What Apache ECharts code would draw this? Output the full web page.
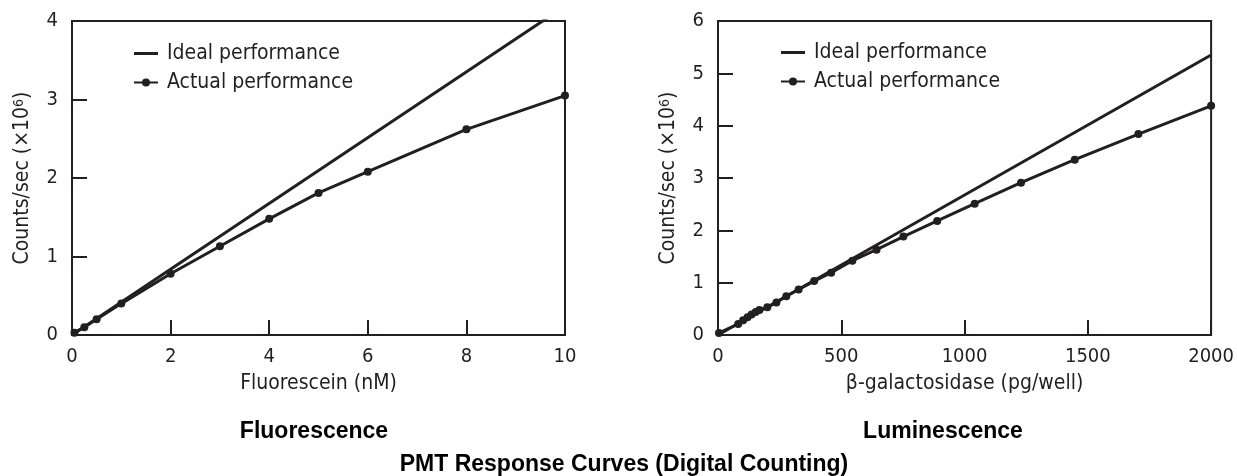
<!DOCTYPE html>
<html>
<head>
<meta charset="utf-8">
<script src="https://cdn.jsdelivr.net/npm/echarts@6/dist/echarts.min.js"></script>
<style>
  html, body { margin: 0; padding: 0; background: #fff; }
  #chart { width: 1237px; height: 476px; }
</style>
</head>
<body>
<div id="chart"></div>
<script>
// Fluorescence panel (x: fluorescein nM, y: counts/sec x10^6)
var fluorActual = [
  [0.05, 0.03], [0.25, 0.10], [0.5, 0.20], [1, 0.40], [2, 0.78], [3, 1.13],
  [4, 1.48], [5, 1.81], [6, 2.08], [8, 2.62], [10, 3.05]
];
var fluorIdeal = [[0, 0], [10, 4.19]];

// Luminescence panel (x: beta-galactosidase pg/well)
var lumiActual = [
  [4, 0.04], [82, 0.21], [102, 0.28], [120, 0.34], [136, 0.39], [153, 0.44],
  [168, 0.48], [200, 0.53], [237, 0.62], [277, 0.74], [327, 0.87], [390, 1.03],
  [459, 1.19], [545, 1.42], [643, 1.63], [752, 1.88], [889, 2.18], [1041, 2.51],
  [1229, 2.91], [1447, 3.35], [1705, 3.84], [2000, 4.38]
];
var lumiIdeal = [[0, 0], [2000, 5.35]];

var seriesNames = ["Ideal performance", "Actual performance"];
var panelTitles = ["Fluorescence", "Luminescence"];
var mainTitle = "PMT Response Curves (Digital Counting)";

var ink = "#231f20";
var narrow = "'Liberation Sans Narrow', 'DejaVu Sans Condensed', sans-serif";
var bold = "'Liberation Sans', Arial, sans-serif";
// plain bar for the "ideal" legend entry (corner dots keep the 24x10 box)
var lineIcon = "path://M0,0h0.01v0.01h-0.01z M0,3.6h24v2.8h-24z M23.99,9.99h0.01v0.01h-0.01z";

var chart = echarts.init(document.getElementById("chart"));

function xAxis(idx, min, max, step, name) {
  return {
    gridIndex: idx,
    type: "value",
    min: min,
    max: max,
    interval: step,
    name: name,
    nameLocation: "middle",
    nameGap: 38,
    nameTextStyle: { color: ink, fontFamily: narrow, fontSize: 21 },
    axisLine: { show: true, lineStyle: { color: ink, width: 2 } },
    axisTick: { show: true, inside: true, length: 15, lineStyle: { color: ink, width: 2 } },
    axisLabel: {
      color: ink, fontFamily: narrow, fontSize: 20, margin: 12,
      formatter: function (v) { return String(v); }
    },
    splitLine: { show: false }
  };
}

function yAxis(idx, max) {
  return {
    gridIndex: idx,
    type: "value",
    min: 0,
    max: max,
    interval: 1,
    name: "Counts/sec (×10{sup|6})",
    nameLocation: "middle",
    nameGap: 38,
    nameTextStyle: {
      color: ink, fontFamily: narrow, fontSize: 21,
      rich: { sup: { fontFamily: narrow, fontSize: 14, color: ink, verticalAlign: "top", padding: [0, 0, 8, 0] } }
    },
    axisLine: { show: true, lineStyle: { color: ink, width: 2 } },
    axisTick: { show: true, inside: true, length: 15, lineStyle: { color: ink, width: 2 } },
    axisLabel: { color: ink, fontFamily: narrow, fontSize: 20, margin: 14 },
    splitLine: { show: false }
  };
}

function legend(left, top) {
  return {
    left: left,
    top: top,
    orient: "vertical",
    itemWidth: 24,
    itemHeight: 10,
    itemGap: 8,
    padding: 0,
    data: [
      { name: seriesNames[0], icon: lineIcon, itemStyle: { color: ink } },
      { name: seriesNames[1] }
    ],
    textStyle: { color: ink, fontFamily: narrow, fontSize: 21, padding: [0, 0, 0, 4] }
  };
}

function idealSeries(idx, data) {
  return {
    name: seriesNames[0],
    type: "line",
    xAxisIndex: idx,
    yAxisIndex: idx,
    data: data,
    symbol: "none",
    lineStyle: { color: ink, width: 3 },
    itemStyle: { color: ink }
  };
}

function actualSeries(idx, data) {
  return {
    name: seriesNames[1],
    type: "line",
    xAxisIndex: idx,
    yAxisIndex: idx,
    data: data,
    symbol: "circle",
    symbolSize: 8,
    showSymbol: true,
    lineStyle: { color: ink, width: 3 },
    itemStyle: { color: ink }
  };
}

var option = {
  animation: false,
  backgroundColor: "#fff",
  title: [
    { text: panelTitles[0], left: 314, top: 420, textAlign: "center", padding: 0,
      textStyle: { color: "#000", fontFamily: bold, fontWeight: "bold", fontSize: 23 } },
    { text: panelTitles[1], left: 943, top: 420, textAlign: "center", padding: 0,
      textStyle: { color: "#000", fontFamily: bold, fontWeight: "bold", fontSize: 23 } },
    { text: mainTitle, left: 624, top: 453, textAlign: "center", padding: 0,
      textStyle: { color: "#000", fontFamily: bold, fontWeight: "bold", fontSize: 23 } }
  ],
  legend: [legend(133, 43), legend(780, 42)],
  grid: [
    { left: 72, right: 672, top: 21, bottom: 141, show: true, borderColor: ink, borderWidth: 2 },
    { left: 718, right: 22, top: 21, bottom: 141, show: true, borderColor: ink, borderWidth: 2 }
  ],
  xAxis: [
    xAxis(0, 0, 10, 2, "Fluorescein (nM)"),
    xAxis(1, 0, 2000, 500, "β-galactosidase (pg/well)")
  ],
  yAxis: [yAxis(0, 4), yAxis(1, 6)],
  series: [
    idealSeries(0, fluorIdeal),
    actualSeries(0, fluorActual),
    idealSeries(1, lumiIdeal),
    actualSeries(1, lumiActual)
  ]
};

chart.setOption(option);
</script>
</body>
</html>
